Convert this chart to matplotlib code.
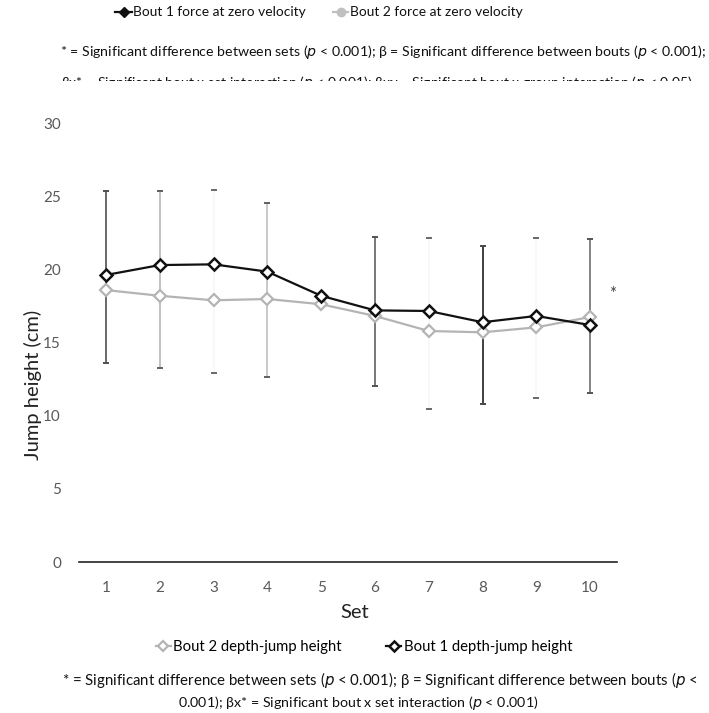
import matplotlib.pyplot as plt
import numpy as np

sets = [1, 2, 3, 4, 5, 6, 7, 8, 9, 10]
bout1_height = [19.63, 20.31, 20.36, 19.86, 18.21, 17.21, 17.17, 16.40, 16.83, 16.21]
bout2_height = [18.60, 18.21, 17.90, 17.99, 17.63, 16.83, 15.80, 15.71, 16.05, 16.76]

# error bar limits per set (nan = no bar drawn)
bar_high = [25.41, 25.40, 25.44, 24.56, np.nan, 22.25, 22.14, 21.63, 22.14, 22.07]
bar_low = [13.59, 13.29, 12.91, 12.63, np.nan, 12.06, 10.46, 10.81, 11.22, 11.58]
bar_colors = ['#505050', '#b8b8b8', '#f7f7f7', '#c0c0c0', 'white',
              '#606060', '#f7f7f7', '#202020', '#f7f7f7', '#707070']

plt.rcParams['font.family'] = ['Lato', 'DejaVu Sans']

W, H = 709, 713
fig = plt.figure(figsize=(W / 100, H / 100), dpi=100)
renderer = fig.canvas.get_renderer()
ax = fig.add_axes([79 / W, 1 - 562 / H, 538 / W, 438.6 / H])


def fitted(xc, yp, s, width, ha='center', **kw):
    # text sized so that it spans `width` pixels
    t = fig.text(xc / W, 1 - yp / H, s, fontsize=10, ha=ha, va='center', **kw)
    w = t.get_window_extent(renderer).width
    t.set_fontsize(10 * width / w)
    return t


def size_for(s, width):
    t = fig.text(0, 0, s, fontsize=10)
    w = t.get_window_extent(renderer).width
    t.remove()
    return 10 * width / w


x = np.array(sets)
b1 = np.array(bout1_height)
hi = np.array(bar_high)
lo = np.array(bar_low)
for i in range(len(sets)):
    if np.isnan(hi[i]):
        continue
    yerr = [[b1[i] - lo[i]], [hi[i] - b1[i]]]
    ax.errorbar([x[i]], [b1[i]], yerr=yerr, fmt='none', ecolor=bar_colors[i],
                elinewidth=1.2, capsize=2, capthick=1.2, zorder=1)
    # caps stay dark even where the bar line fades out
    ax.errorbar([x[i]], [b1[i]], yerr=yerr, fmt='none', ecolor='#505050',
                elinewidth=0, capsize=2, capthick=1.2, zorder=1)

ax.plot(x, bout2_height, color='#b4b4b4', lw=1.6, marker='D', ms=6.5,
        mfc='white', mec='#b4b4b4', mew=1.6, label='Bout 2 depth-jump height', zorder=2)
ax.plot(x, bout1_height, color='#111111', lw=1.6, marker='D', ms=6.5,
        mfc='white', mec='#111111', mew=1.8, label='Bout 1 depth-jump height', zorder=3)

ax.text(10.42, 18.3, '*', fontsize=12, color='#404040', ha='center', va='center')

ax.set_xlim(0.5, 10.5)
ax.set_ylim(0, 30)
ax.set_xticks(sets)
ax.set_yticks(range(0, 31, 5))
ax.tick_params(length=0, labelsize=11, labelcolor='#595959')
ax.tick_params(axis='x', pad=14)
ax.tick_params(axis='y', pad=13)
for s in ['top', 'right', 'left']:
    ax.spines[s].set_visible(False)
ax.spines['bottom'].set_color('#222222')
ax.spines['bottom'].set_linewidth(1.2)

fig.text(0.5, 1 - 612 / H, 'Set', ha='center', va='center',
         fontsize=size_for('Jump height (cm)', 150), color='#222222')
fig.text(33 / W, 1 - 385 / H, 'Jump height (cm)', rotation=90, ha='center',
         va='center', fontsize=size_for('Jump height (cm)', 150), color='#222222')

leg_size = size_for('Bout 2 depth-jump height', 170)
ax.legend(loc='center', bbox_to_anchor=(364 / W, 1 - 647 / H), bbox_transform=fig.transFigure,
          ncol=2, frameon=False, fontsize=leg_size, borderpad=0, borderaxespad=0,
          handlelength=1.0, handletextpad=0.15, columnspacing=3.0, markerscale=0.8)

fitted(380, 680, '* = Significant difference between sets ($\\it{p}$ < 0.001); β = Significant difference between bouts ($\\it{p}$ <',
       636, color='#111111')
fitted(358, 703, '0.001); βx* = Significant bout x set interaction ($\\it{p}$ < 0.001)',
       360, color='#111111')

# header from the adjacent panel, cut off at the bottom
for x0, x1, c, mk in [(115, 132, '#111111', 'D'), (333, 348, '#c0c0c0', 'o')]:
    fig.lines.append(plt.Line2D([x0 / W, x1 / W], [1 - 12 / H] * 2, transform=fig.transFigure,
                                color=c, lw=1.6))
    fig.lines.append(plt.Line2D([(x0 + x1) / 2 / W], [1 - 12 / H], transform=fig.transFigure,
                                color=c, marker=mk, ms=6 if mk == 'o' else 5.5, lw=0))
fitted(133, 12, 'Bout 1 force at zero velocity', 173, ha='left', color='#111111')
fitted(350, 12, 'Bout 2 force at zero velocity', 173, ha='left', color='#111111')
fitted(383, 52, '* = Significant difference between sets ($\\it{p}$ < 0.001); β = Significant difference between bouts ($\\it{p}$ < 0.001);',
       648, color='#111111')
fitted(377, 83, 'βx* = Significant bout x set interaction ($\\it{p}$ < 0.001); βxγ = Significant bout x group interaction ($\\it{p}$ < 0.05)',
       633, color='#111111')
fig.patches.append(plt.Rectangle((0, 1 - 105 / H), 1, 24 / H, transform=fig.transFigure,
                                 facecolor='white', edgecolor='none', zorder=5))

fig.savefig('out.png', dpi=100, facecolor='white')
